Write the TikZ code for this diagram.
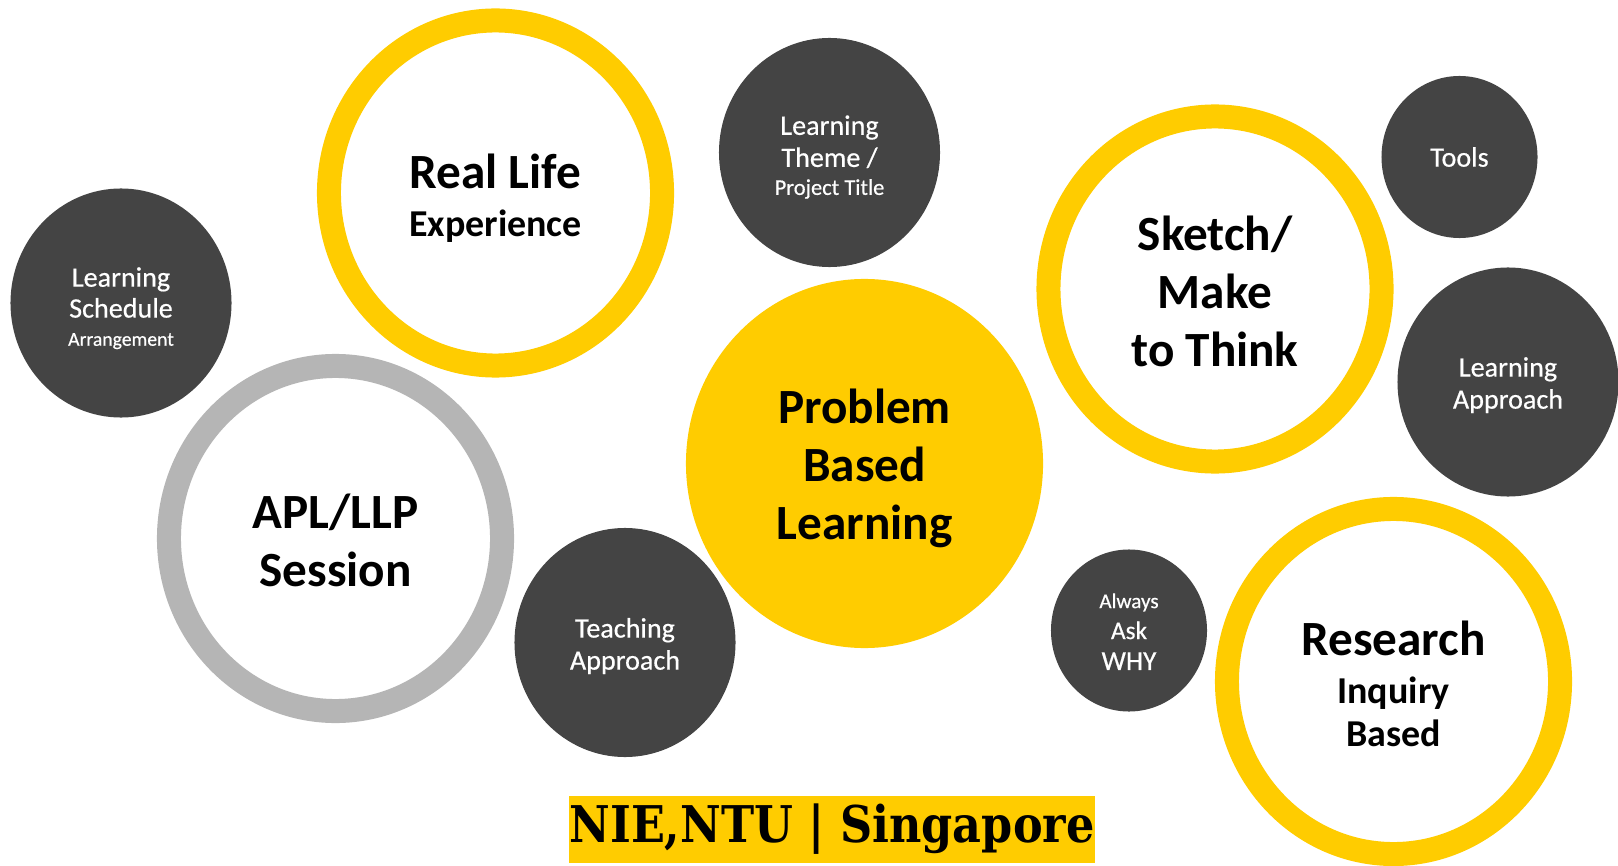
\documentclass[tikz,border=0pt]{standalone}
\usepackage{fontspec}
\setmainfont{Carlito}
\newfontfamily\dotfont{Carlito}[FakeBold=0.5]
\newfontfamily\tagfont{DejaVu Serif}[FakeStretch=0.88]
\usetikzlibrary{shapes.geometric}
\definecolor{pblyellow}{HTML}{FFCC00}
\definecolor{pbldark}{HTML}{444444}
\definecolor{pblgrey}{HTML}{B5B5B5}
\newcommand\fsz[2]{\fontsize{#1}{#2}\selectfont}

\begin{document}
\begin{tikzpicture}[x=0.025cm, y=-0.025cm,
    ring/.style={ellipse, draw=#1, line width=0.6cm, fill=white,
        minimum width=8.325cm, minimum height=8.625cm, inner sep=0pt},
    ring/.default=pblyellow,
    hub/.style={ellipse, fill=pblyellow, minimum width=8.925cm,
        minimum height=9.225cm, inner sep=0pt},
    bigdot/.style={ellipse, fill=pbldark, minimum width=5.525cm,
        minimum height=5.725cm, inner sep=0pt},
    smalldot/.style={ellipse, fill=pbldark, minimum width=3.9cm,
        minimum height=4.05cm, inner sep=0pt},
    ringtext/.style={align=center, inner sep=0pt, font=\bfseries\fsz{35}{41.3}},
    dottext/.style={align=center, inner sep=0pt, text=white, font=\dotfont}]
    \useasboundingbox (0,0) rectangle (1618,866);

    % circles
    \node[hub] (pbl) at (864.5,463.5) {};
    \node[ring] (real) at (495.5,193) {};
    \node[ring=pblgrey] (apl) at (335.5,538.5) {};
    \node[ring] (sketch) at (1215,289) {};
    \node[ring] (research) at (1393.5,681.5) {};
    \node[bigdot] (theme) at (829.5,152.5) {};
    \node[bigdot] (schedule) at (121,303) {};
    \node[bigdot] (teaching) at (625,642.5) {};
    \node[bigdot] (approach) at (1508,382) {};
    \node[smalldot] (tools) at (1459.5,157) {};
    \node[smalldot] (why) at (1129,630.5) {};

    % texts
    \node[ringtext, yshift=-0.125cm] (pbl-txt) at (pbl)
        {Problem\\ Based\\ Learning};
    \node[ringtext, yshift=-0.125cm, font=\bfseries\fsz{35}{34}] (real-txt) at (real)
        {Real Life\\ \fsz{27}{34}Experience};
    \node[ringtext, yshift=-0.04cm] (apl-txt) at (apl)
        {APL/LLP\\ Session};
    \node[ringtext, yshift=-0.05cm] (sketch-txt) at (sketch)
        {Sketch/\\ Make\\ to Think};
    \node[ringtext, yshift=-0.05cm, font=\bfseries\fsz{35}{34}] (research-txt) at (research)
        {Research\\ \fsz{27}{34}Inquiry\\[-3.4pt] \fsz{27}{34}Based};

    \node[dottext, yshift=-0.115cm, font=\dotfont\fsz{20}{22.8}] (theme-txt) at (theme)
        {Learning\\ Theme /\\[-2.9pt] \fsz{16}{18}Project Title};
    \node[dottext, yshift=-0.13cm, font=\dotfont\fsz{20}{22}] (schedule-txt) at (schedule)
        {Learning\\ Schedule\\[-2pt] \fsz{14}{17}Arrangement};
    \node[dottext, yshift=-0.09cm, font=\dotfont\fsz{20}{22.8}] (teaching-txt) at (teaching)
        {Teaching\\ Approach};
    \node[dottext, yshift=-0.08cm, font=\dotfont\fsz{20}{22.8}] (approach-txt) at (approach)
        {Learning\\ Approach};
    \node[dottext, font=\dotfont\fsz{20}{22}] (tools-txt) at (tools) {Tools};
    \node[dottext, yshift=-0.03cm, font=\dotfont\fsz{18}{22}] (why-txt) at (why)
        {\fsz{15}{22}Always\\ Ask\\ \fsz{19.5}{22}WHY};

    \node[fill=pblyellow, minimum width=13.15cm, minimum height=1.675cm,
        inner sep=0pt, font=\tagfont\bfseries\fsz{36}{40}] (tag) at (832,829.5)
        {NIE,NTU | Singapore};
\end{tikzpicture}
\end{document}
